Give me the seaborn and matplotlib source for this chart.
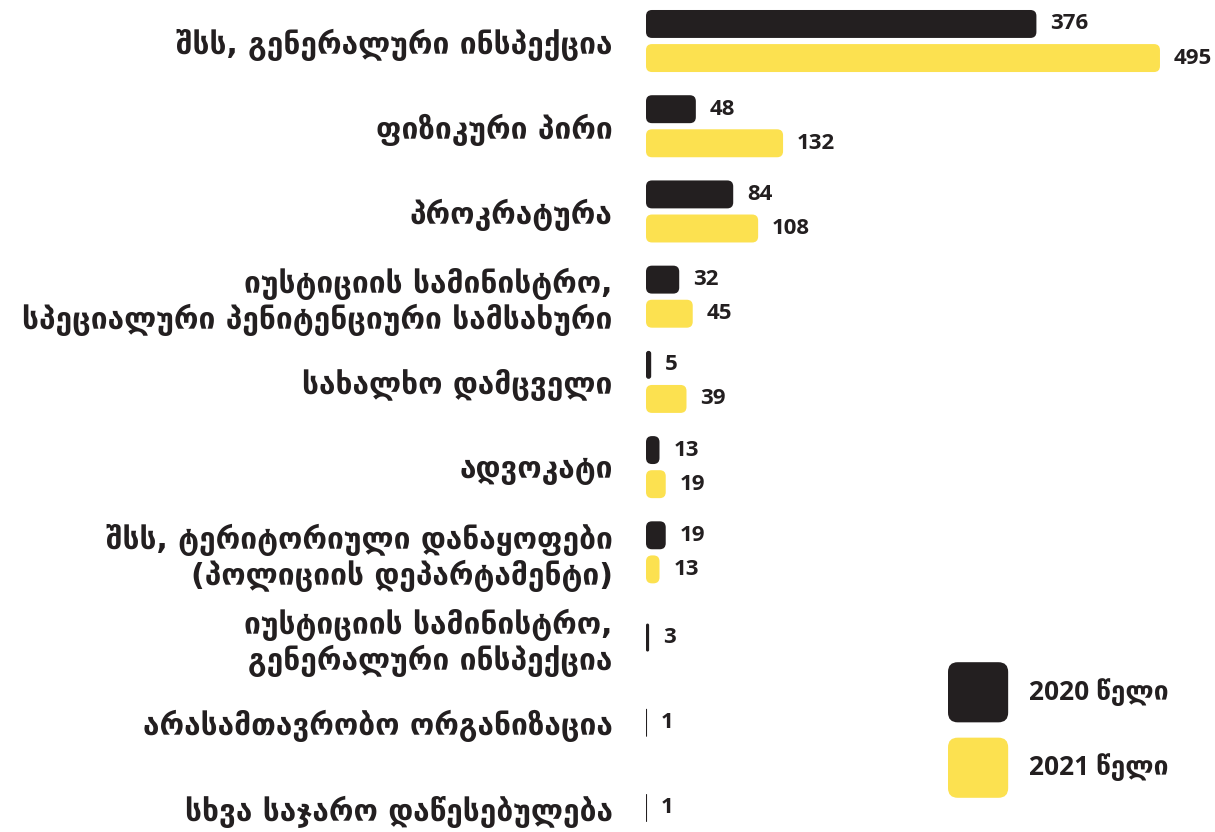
import pandas as pd
import matplotlib.pyplot as plt
import seaborn as sns
from matplotlib.patches import FancyBboxPatch, Patch
from matplotlib.legend_handler import HandlerPatch

# მონაცემები
categories = [
    "შსს, გენერალური ინსპექცია",
    "ფიზიკური პირი",
    "პროკრატურა",
    "იუსტიციის სამინისტრო,\nსპეციალური პენიტენციური სამსახური",
    "სახალხო დამცველი",
    "ადვოკატი",
    "შსს, ტერიტორიული დანაყოფები\n(პოლიციის დეპარტამენტი)",
    "იუსტიციის სამინისტრო,\nგენერალური ინსპექცია",
    "არასამთავრობო ორგანიზაცია",
    "სხვა საჯარო დაწესებულება",
]
years = ["2020 წელი", "2021 წელი"]
values_2020 = [376, 48, 84, 32, 5, 13, 19, 3, 1, 1]
values_2021 = [495, 132, 108, 45, 39, 19, 13, None, None, None]
colors = ["#231f20", "#fce150"]

# ორწლიანი და ერთწლიანი რიგები ცალ-ცალკე
rows_pair, rows_single = [], []
for cat, v20, v21 in zip(categories, values_2020, values_2021):
    if v21 is None:
        rows_single.append({"წყარო": cat, "რაოდენობა": v20})
    else:
        rows_pair.append({"წყარო": cat, "წელი": years[0], "რაოდენობა": v20})
        rows_pair.append({"წყარო": cat, "წელი": years[1], "რაოდენობა": v21})
df_pair = pd.DataFrame(rows_pair)
df_single = pd.DataFrame(rows_single)

sns.set_style("white")
plt.rcParams["font.family"] = ["DejaVu Sans"]
num_font = ["Open Sans", "DejaVu Sans"]

fig = plt.figure(figsize=(12.15, 8.32), dpi=100)
ax = fig.add_axes([646 / 1215, 0, 1 - 646 / 1215, 1])

sns.barplot(data=df_pair, y="წყარო", x="რაოდენობა", hue="წელი", order=categories,
            hue_order=years, palette=colors, width=0.8, gap=0.18, orient="h",
            saturation=1, legend=False, ax=ax)
sns.barplot(data=df_single, y="წყარო", x="რაოდენობა", order=categories,
            color=colors[0], width=0.328, orient="h", saturation=1, ax=ax)

ax.set_xlim(0, 548)
ax.set_ylim(9 + 24 / 85.2, -41 / 85.2)
sns.despine(ax=ax, left=True, bottom=True)
ax.set_xlabel("")
ax.set_ylabel("")
ax.set_xticks([])
ax.tick_params(axis="y", length=0, pad=24)
for lbl in ax.get_yticklabels():
    lbl.set_fontsize(21.5)
    lbl.set_fontweight("bold")
    lbl.set_color("#231f20")
    lbl.set_linespacing(1.15)

# მნიშვნელობები
for cont in ax.containers:
    ax.bar_label(cont, fmt="%d", padding=10, fontsize=16, fontweight="bold",
                 color="#231f20", family=num_font)

# მომრგვალებული სვეტები
fig.canvas.draw()
px_x = ax.transData.transform((1, 0))[0] - ax.transData.transform((0, 0))[0]
px_y = abs(ax.transData.transform((0, 1))[1] - ax.transData.transform((0, 0))[1])
for bar in list(ax.patches):
    x, y, w, h = bar.get_x(), bar.get_y(), bar.get_width(), bar.get_height()
    if w <= 0:
        continue
    r_px = min(6, w * px_x / 2, abs(h) * px_y / 2)
    fancy = FancyBboxPatch((x, y), w, h,
                           boxstyle=f"round,pad=0,rounding_size={r_px / px_x}",
                           mutation_aspect=px_x / px_y,
                           fc=bar.get_facecolor(), ec="none")
    ax.add_patch(fancy)
    bar.set_visible(False)


def rounded_handle(legend, orig_handle, xdescent, ydescent, width, height, fontsize):
    return FancyBboxPatch((-xdescent, -ydescent), width, height,
                          boxstyle="round,pad=0,rounding_size=7")


handles = [Patch(fc=c, ec="none") for c in colors]
ax.legend(handles, years, loc="center left",
          bbox_to_anchor=(948 / 1215, 1 - 730 / 832), bbox_transform=fig.transFigure,
          frameon=False, prop={"size": 19, "weight": "bold", "family": num_font},
          handlelength=2.28, handleheight=3.13, handletextpad=0.8,
          labelspacing=0.58, borderpad=0, borderaxespad=0,
          handler_map={Patch: HandlerPatch(patch_func=rounded_handle)})
for t in ax.get_legend().get_texts():
    t.set_color("#231f20")

fig.savefig("out.png", dpi=100)
